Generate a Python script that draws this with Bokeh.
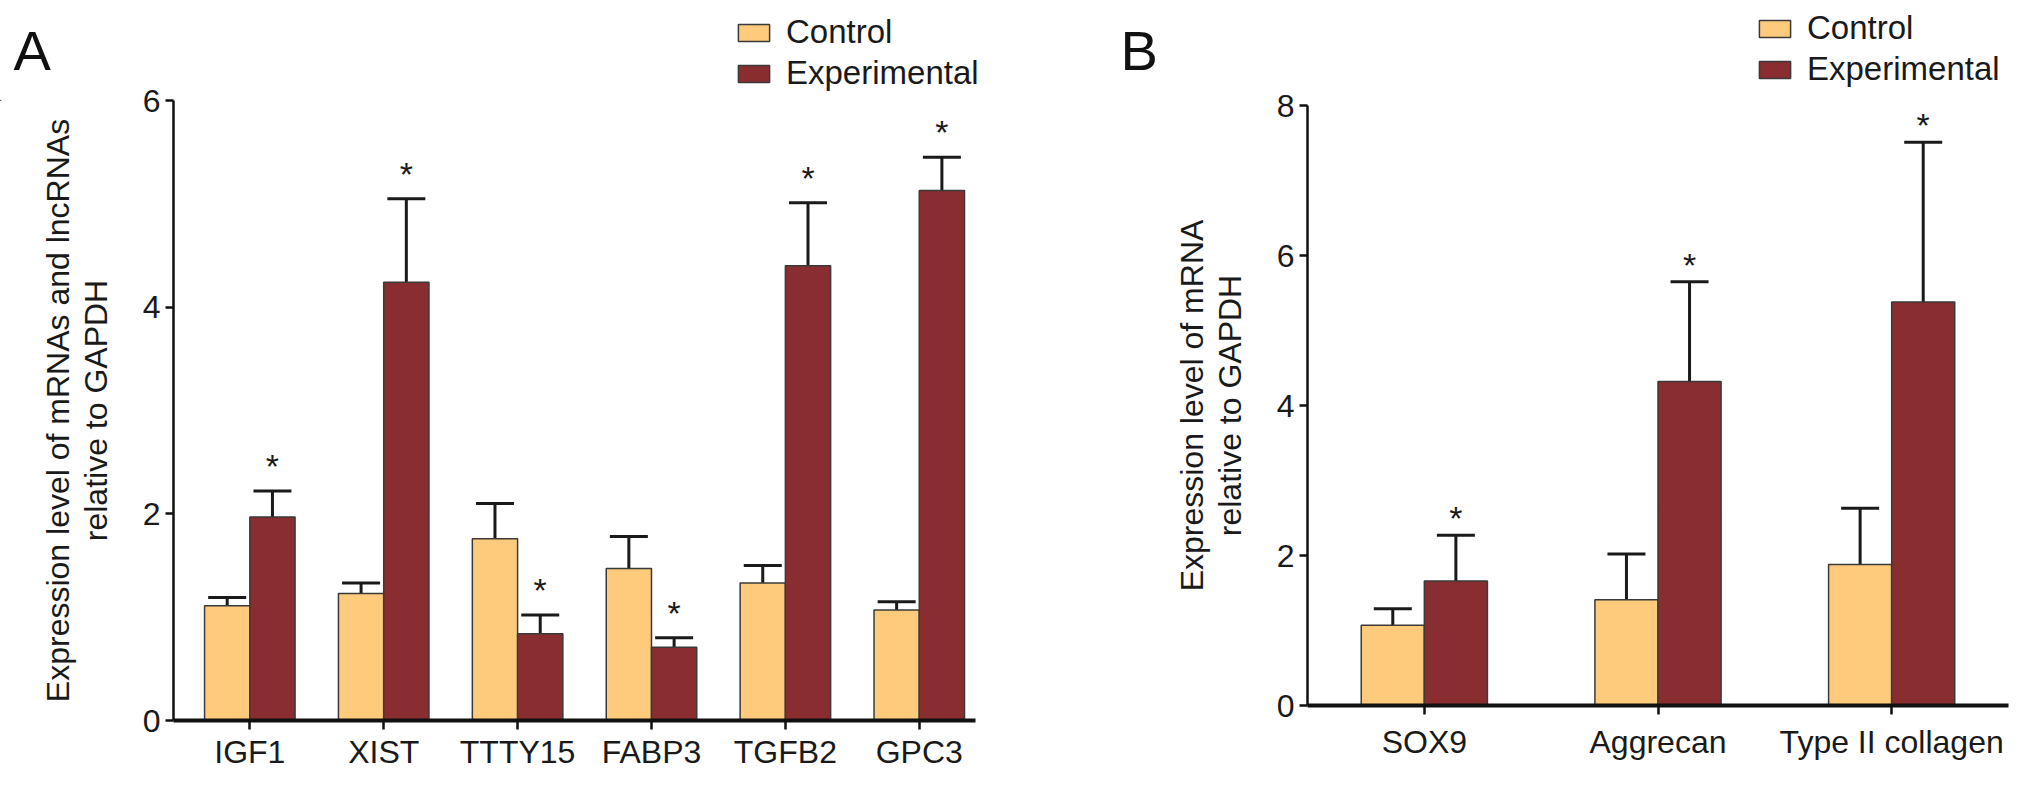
from bokeh.plotting import figure
from bokeh.models import (ColumnDataSource, Range1d, FixedTicker, Whisker, TeeHead,
                          Label, Legend, LegendItem)
from bokeh.layouts import row, column
from bokeh.embed import file_html
from bokeh.resources import INLINE
from bokeh.core.properties import value

# Panel A: mRNAs and lncRNAs
genes_a = ["IGF1", "XIST", "TTTY15", "FABP3", "TGFB2", "GPC3"]
ctrl_a = [1.11, 1.23, 1.76, 1.47, 1.33, 1.07]
ctrl_a_err = [0.08, 0.10, 0.34, 0.31, 0.17, 0.08]
exp_a = [1.97, 4.24, 0.84, 0.71, 4.40, 5.13]
exp_a_err = [0.25, 0.81, 0.18, 0.09, 0.61, 0.32]

# Panel B: chondrogenic markers
genes_b = ["SOX9", "Aggrecan", "Type II collagen"]
ctrl_b = [1.07, 1.41, 1.88]
ctrl_b_err = [0.22, 0.61, 0.75]
exp_b = [1.66, 4.32, 5.38]
exp_b_err = [0.61, 1.33, 2.13]

FONT = "Liberation Sans"
CTRL_COLOR = "#FDCB7B"
EXP_COLOR = "#8A2D31"
EDGE = "#3A3A3A"
INK = "#1a1a1a"


def no_align(p):
    if "frame_align" in p.properties():
        p.frame_align = False


def make_panel(genes, ctrl, ctrl_err, exp, exp_err, ylabel, ytop, frame_w, frame_h,
               pad_left, pad_right, bar_w, border_left, border_right, border_top,
               xlabel_standoff, star_offset):
    n = len(genes)
    p = figure(frame_width=frame_w, frame_height=frame_h, output_backend="svg",
               toolbar_location=None,
               x_range=Range1d(-pad_left, n - 1 + pad_right), y_range=Range1d(0, ytop),
               min_border_left=border_left, min_border_right=border_right,
               min_border_top=border_top, min_border_bottom=40)
    no_align(p)
    p.outline_line_color = None
    p.border_fill_color = None
    p.xgrid.grid_line_color = None
    p.ygrid.grid_line_color = None

    for vals, errs, color, shift in [(ctrl, ctrl_err, CTRL_COLOR, -bar_w / 2),
                                     (exp, exp_err, EXP_COLOR, bar_w / 2)]:
        src = ColumnDataSource(data=dict(
            x=[i + shift for i in range(n)],
            top=vals,
            upper=[v + e for v, e in zip(vals, errs)],
        ))
        p.vbar(x="x", top="top", bottom=0, width=bar_w, source=src,
               fill_color=color, line_color=EDGE, line_width=1.5)
        p.add_layout(Whisker(source=src, base="x", lower="top", upper="upper",
                             line_color=INK, line_width=3, lower_head=None,
                             upper_head=TeeHead(size=38, line_color=INK, line_width=3)))
        if color == EXP_COLOR:
            src.data["star"] = ["*"] * n
            p.text(x="x", y="upper", text="star", source=src, text_align="center",
                   text_baseline="middle", y_offset=star_offset, text_font=value(FONT),
                   text_font_size="34px", text_color=INK)

    # axes
    p.xaxis.axis_label = None
    p.xaxis.ticker = FixedTicker(ticks=list(range(n)))
    p.xaxis.major_label_overrides = {i: g for i, g in enumerate(genes)}
    p.xaxis.axis_line_width = 4
    p.xaxis.major_tick_line_width = 2.5
    p.xaxis.major_tick_out = 9
    p.xaxis.major_tick_in = 0
    p.xaxis.minor_tick_line_color = None
    p.xaxis.major_label_standoff = xlabel_standoff

    p.yaxis.ticker = FixedTicker(ticks=list(range(0, ytop + 1, 2)))
    p.yaxis.axis_line_width = 2.5
    p.yaxis.major_tick_line_width = 2.5
    p.yaxis.major_tick_out = 8
    p.yaxis.major_tick_in = 0
    p.yaxis.minor_tick_line_color = None
    p.yaxis.major_label_standoff = 5
    p.yaxis.axis_label = ylabel
    p.yaxis.axis_label_standoff = 26
    p.yaxis.axis_label_text_font_style = "normal"
    p.yaxis.axis_label_text_line_height = 1.05

    for ax in (p.xaxis, p.yaxis):
        ax.axis_line_color = "#111111"
        ax.major_tick_line_color = "#111111"
        ax.major_label_text_font = FONT
        ax.major_label_text_font_size = "32px"
        ax.major_label_text_color = INK
        ax.axis_label_text_font = FONT
        ax.axis_label_text_font_size = "32px"
        ax.axis_label_text_color = INK
    return p


pa = make_panel(genes_a, ctrl_a, ctrl_a_err, exp_a, exp_a_err,
                "Expression level of mRNAs and lncRNAs\nrelative to GAPDH",
                ytop=6, frame_w=802, frame_h=620, pad_left=0.57, pad_right=0.42,
                bar_w=0.338, border_left=173, border_right=19, border_top=23,
                xlabel_standoff=4, star_offset=-25)
pb = make_panel(genes_b, ctrl_b, ctrl_b_err, exp_b, exp_b_err,
                "Expression level of mRNA\nrelative to GAPDH",
                ytop=8, frame_w=701, frame_h=600, pad_left=0.5, pad_right=0.5,
                bar_w=0.27, border_left=313, border_right=8, border_top=28,
                xlabel_standoff=9, star_offset=-17)

# header strip with the panel letters and the two legends
header = figure(width=2016, height=101, x_range=Range1d(0, 2016), y_range=Range1d(0, 101),
                x_axis_type=None, y_axis_type=None, min_border=0, output_backend="svg",
                toolbar_location=None)
no_align(header)
header.outline_line_color = None
header.border_fill_color = None
header.background_fill_color = None
# legend swatches: one bar each, parked outside the visible range
sw_ctrl = header.vbar(x=[-100], top=[1], width=1, fill_color=CTRL_COLOR, line_color=EDGE,
                      line_width=1.5)
sw_exp = header.vbar(x=[-100], top=[1], width=1, fill_color=EXP_COLOR, line_color=EDGE,
                     line_width=1.5)

for loc in [(734, 9), (1755, 13)]:
    legend = Legend(items=[LegendItem(label="Control", renderers=[sw_ctrl]),
                           LegendItem(label="Experimental", renderers=[sw_exp])],
                    location=loc)
    legend.label_text_font = FONT
    legend.label_text_font_size = "33px"
    legend.label_text_color = INK
    legend.glyph_width = 39
    legend.glyph_height = 21
    legend.label_standoff = 13
    legend.spacing = 3
    legend.padding = 0
    legend.margin = 0
    legend.border_line_color = None
    legend.background_fill_alpha = 0
    header.add_layout(legend)

for letter, lx in [("A", 13), ("B", 1120)]:
    header.add_layout(Label(x=lx, y=51, x_units="screen", y_units="screen", text=letter,
                            text_font=FONT, text_font_size="56px",
                            text_baseline="alphabetic", text_color="#111111"))

# the panels slide up under the header strip so the two can share a few pixels
panels = row(pa, pb, styles={"margin-top": "-24px"})
layout = column(header, panels)
open("out.html", "w").write(file_html(layout, INLINE))
